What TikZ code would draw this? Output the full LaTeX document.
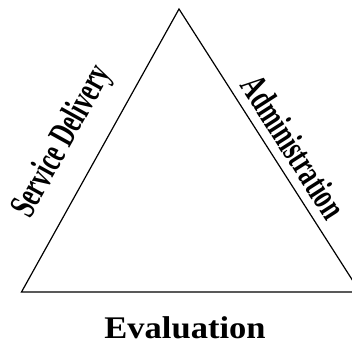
\documentclass[tikz,border=0pt]{standalone}
\usepackage{fontspec}
\setmainfont{Liberation Serif}
\begin{document}
\begin{tikzpicture}[x=1pt,y=-1pt,
  edge/.style={line width=1.2pt, line join=miter},
  lbl/.style={font=\bfseries\fontsize{30}{30}\selectfont, inner sep=0pt}]
\useasboundingbox (0,0) rectangle (352,347);
\begin{scope}
\clip (0,0) rectangle (352,347);
\coordinate (top) at (179,9);
\coordinate (bl) at (21.5,292);
\coordinate (br) at (360,292);
\draw[edge] (bl) -- (top) -- (br) -- cycle;
\end{scope}
\node[lbl, rotate=61, xscale=0.8, yscale=1.25] (sd) at (63,142) {Service Delivery};
\node[lbl, rotate=-57.4, xscale=0.82, yscale=1.25] (ad) at (294,147) {Administration};
\node[lbl, xscale=1.15, yscale=1.05, anchor=base] (ev) at (185,338) {Evaluation};
\end{tikzpicture}
\end{document}
